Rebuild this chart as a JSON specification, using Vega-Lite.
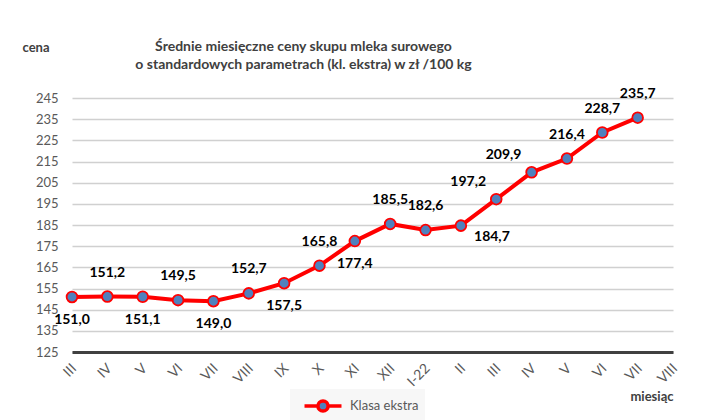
{
  "$schema": "https://vega.github.io/schema/vega-lite/v6.json",
  "width": 601,
  "height": 254,
  "autosize": "none",
  "padding": {"left": 72, "top": 98, "right": 28, "bottom": 68},
  "background": "white",
  "config": {
    "locale": {"number": {"decimal": ",", "thousands": " ", "grouping": [3], "currency": ["", " zł"]}},
    "view": {"stroke": null},
    "font": "Lato"
  },
  "title": {
    "text": ["Średnie miesięczne ceny skupu mleka surowego", "o standardowych parametrach (kl. ekstra) w zł /100 kg"],
    "anchor": "middle",
    "dx": -69,
    "offset": -31,
    "font": "Lato",
    "fontSize": 14,
    "fontWeight": "bold",
    "color": "#404040",
    "lineHeight": 18
  },
  "data": {
    "values": [
      {"okres": "2021-03", "cena": 151.0, "poz": "below", "seria": "Klasa ekstra"},
      {"okres": "2021-04", "cena": 151.2, "poz": "above", "seria": "Klasa ekstra"},
      {"okres": "2021-05", "cena": 151.1, "poz": "below", "seria": "Klasa ekstra"},
      {"okres": "2021-06", "cena": 149.5, "poz": "above", "seria": "Klasa ekstra"},
      {"okres": "2021-07", "cena": 149.0, "poz": "below", "seria": "Klasa ekstra"},
      {"okres": "2021-08", "cena": 152.7, "poz": "above", "seria": "Klasa ekstra"},
      {"okres": "2021-09", "cena": 157.5, "poz": "below", "seria": "Klasa ekstra"},
      {"okres": "2021-10", "cena": 165.8, "poz": "above", "seria": "Klasa ekstra"},
      {"okres": "2021-11", "cena": 177.4, "poz": "below", "seria": "Klasa ekstra"},
      {"okres": "2021-12", "cena": 185.5, "poz": "above", "seria": "Klasa ekstra"},
      {"okres": "2022-01", "cena": 182.6, "poz": "above", "seria": "Klasa ekstra"},
      {"okres": "2022-02", "cena": 184.7, "poz": "right", "seria": "Klasa ekstra"},
      {"okres": "2022-03", "cena": 197.2, "poz": "left", "seria": "Klasa ekstra"},
      {"okres": "2022-04", "cena": 209.9, "poz": "left", "seria": "Klasa ekstra"},
      {"okres": "2022-05", "cena": 216.4, "poz": "above", "seria": "Klasa ekstra"},
      {"okres": "2022-06", "cena": 228.7, "poz": "above", "seria": "Klasa ekstra"},
      {"okres": "2022-07", "cena": 235.7, "poz": "above", "seria": "Klasa ekstra"}
    ]
  },
  "encoding": {
    "x": {
      "field": "okres",
      "type": "ordinal",
      "scale": {
        "type": "point",
        "padding": 0,
        "domain": ["2021-03", "2021-04", "2021-05", "2021-06", "2021-07", "2021-08", "2021-09", "2021-10", "2021-11", "2021-12", "2022-01", "2022-02", "2022-03", "2022-04", "2022-05", "2022-06", "2022-07", "2022-08"]
      },
      "axis": {
        "title": "miesiąc",
        "titleAngle": 0,
        "titleAlign": "right",
        "titleBaseline": "middle",
        "titleX": 601,
        "titleY": 44,
        "titleFont": "Lato",
        "titleFontSize": 13,
        "titleFontWeight": "bold",
        "titleColor": "#404040",
        "labelExpr": "['I','II','III','IV','V','VI','VII','VIII','IX','X','XI','XII'][toNumber(substring(datum.value,5,7))-1] + (datum.value == '2022-01' ? '-22' : '')",
        "labelAngle": -45,
        "labelAlign": "right",
        "labelBaseline": "middle",
        "labelPadding": 14,
        "labelOffset": 2,
        "labelFont": "Lato",
        "labelFontSize": 14,
        "labelColor": "#595959",
        "ticks": false,
        "grid": false,
        "domainColor": "#404040",
        "domainWidth": 3
      }
    },
    "y": {
      "field": "cena",
      "type": "quantitative",
      "scale": {"domain": [125, 245], "nice": false, "zero": false},
      "axis": {
        "values": [125, 135, 145, 155, 165, 175, 185, 195, 205, 215, 225, 235, 245],
        "title": "cena",
        "titleAngle": 0,
        "titleAlign": "left",
        "titleBaseline": "middle",
        "titleX": -50,
        "titleY": -51,
        "titleFont": "Lato",
        "titleFontSize": 13,
        "titleFontWeight": "bold",
        "titleColor": "#404040",
        "labelFont": "Lato",
        "labelFontSize": 13,
        "labelColor": "#595959",
        "labelPadding": 14,
        "domain": false,
        "ticks": false,
        "grid": true,
        "gridColor": "#d0d0d0",
        "gridWidth": 1.3
      }
    }
  },
  "layer": [
    {
      "mark": {"type": "line", "strokeWidth": 4},
      "encoding": {
        "color": {
          "field": "seria",
          "type": "nominal",
          "scale": {"range": ["#FF0000"]},
          "legend": {
            "title": null,
            "orient": "none",
            "legendX": 218,
            "legendY": 291,
            "direction": "horizontal",
            "fillColor": "#f7f7f7",
            "padding": 6,
            "symbolType": "M-2,0H-0.55M0.55,0H2M-0.55,0A0.55,0.55,0,1,1,0.55,0A0.55,0.55,0,1,1,-0.55,0Z",
            "symbolSize": 342,
            "symbolOffset": 16,
            "symbolStrokeWidth": 3.5,
            "labelFont": "Lato",
            "labelFontSize": 13,
            "labelColor": "#595959",
            "labelOffset": 16,
            "encode": {
              "symbols": {"update": {"fill": {"value": "#4F81BD"}, "stroke": {"value": "#FF0000"}, "fillOpacity": {"value": 1}}}
            }
          }
        }
      }
    },
    {
      "mark": {"type": "point", "filled": true, "fill": "#4F81BD", "fillOpacity": 1, "stroke": "#FF0000", "strokeWidth": 1.8, "size": 115, "opacity": 1}
    },
    {
      "transform": [{"filter": "datum.poz == 'above'"}],
      "mark": {"type": "text", "dy": -24, "font": "Lato", "fontSize": 14, "fontWeight": "bold", "color": "#000000", "baseline": "middle"},
      "encoding": {"text": {"field": "cena", "type": "quantitative", "format": ".1f"}}
    },
    {
      "transform": [{"filter": "datum.poz == 'below'"}],
      "mark": {"type": "text", "dy": 23, "font": "Lato", "fontSize": 14, "fontWeight": "bold", "color": "#000000", "baseline": "middle"},
      "encoding": {"text": {"field": "cena", "type": "quantitative", "format": ".1f"}}
    },
    {
      "transform": [{"filter": "datum.poz == 'left'"}],
      "mark": {"type": "text", "dx": -28, "dy": -17, "font": "Lato", "fontSize": 14, "fontWeight": "bold", "color": "#000000", "baseline": "middle"},
      "encoding": {"text": {"field": "cena", "type": "quantitative", "format": ".1f"}}
    },
    {
      "transform": [{"filter": "datum.poz == 'right'"}],
      "mark": {"type": "text", "dx": 31, "dy": 11, "font": "Lato", "fontSize": 14, "fontWeight": "bold", "color": "#000000", "baseline": "middle"},
      "encoding": {"text": {"field": "cena", "type": "quantitative", "format": ".1f"}}
    }
  ]
}
